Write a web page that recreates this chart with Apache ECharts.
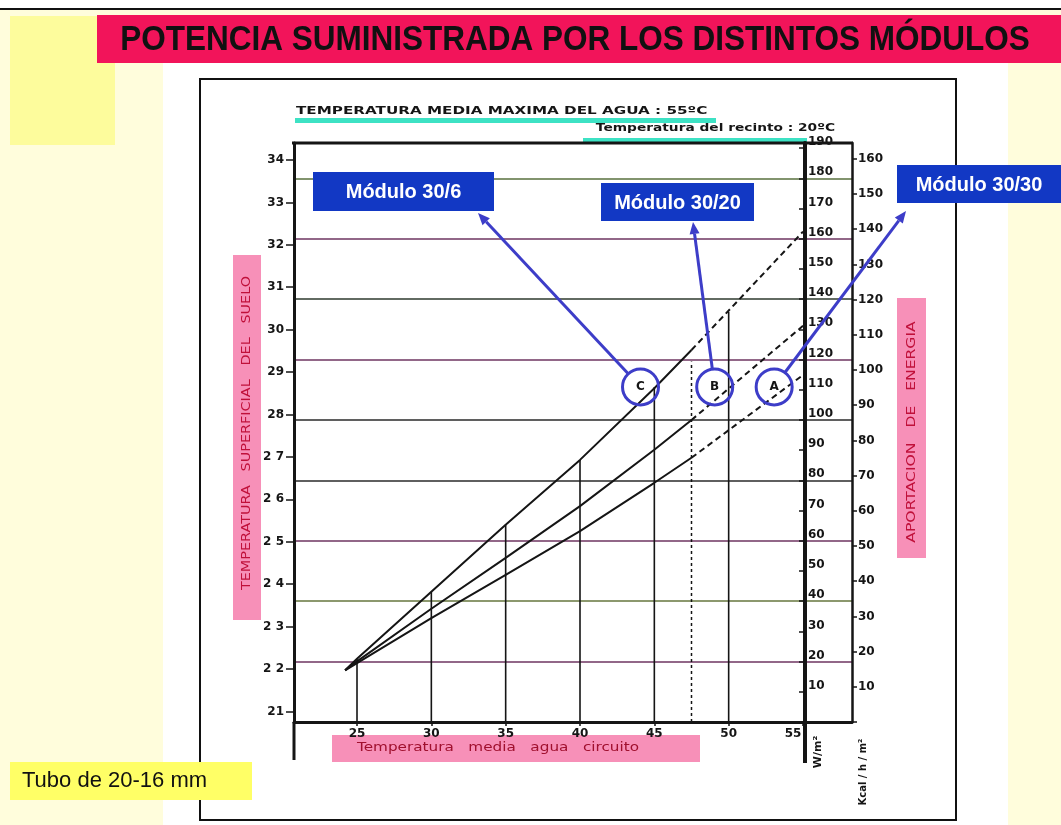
<html>
<head>
<meta charset="utf-8">
<script src="https://cdn.jsdelivr.net/npm/echarts@6/dist/echarts.min.js"></script>
<style>
    body { margin: 0; background: #fffddc; }
    #page { position: relative; width: 1061px; height: 825px; overflow: hidden; }
    .blk { position: absolute; }
    #chart { position: absolute; left: 0; top: 0; width: 1061px; height: 825px; }
</style>
</head>
<body>
<div id="page">
    <div class="blk" style="left:0;top:0;width:1061px;height:8px;background:#fff"></div>
    <div class="blk" style="left:0;top:8px;width:1061px;height:2px;background:#111"></div>
    <div class="blk" style="left:10px;top:16px;width:105px;height:129px;background:#fdfc9c"></div>
    <div class="blk" style="left:163px;top:63px;width:845px;height:762px;background:#fff"></div>
    <div class="blk" style="left:97px;top:15px;width:964px;height:48px;background:#f2145a"></div>
    <div class="blk" style="left:199px;top:78px;width:754px;height:739px;border:2px solid #111"></div>
    <div class="blk" style="left:10px;top:762px;width:242px;height:38px;background:#ffff66"></div>
    <!-- cajas rosas de los titulos de eje -->
    <div class="blk" style="left:233px;top:255px;width:28px;height:365px;background:#f790b8"></div>
    <div class="blk" style="left:897px;top:298px;width:29px;height:260px;background:#f790b8"></div>
    <div class="blk" style="left:332px;top:735px;width:368px;height:27px;background:#f790b8"></div>
    <!-- subrayados -->
    <div class="blk" style="left:295px;top:118px;width:421px;height:5px;background:#3de2c4"></div>
    <div class="blk" style="left:583px;top:138px;width:224px;height:5px;background:#3de2c4"></div>
    <div id="chart"></div>
</div>
<script>
    // temperatura media agua circuito (ºC) -> temperatura superficial del suelo (ºC)
    var waterTemp = [24.2, 25, 30, 35, 40, 45, 47.5];
    var floorC = [21.97, 22.24, 23.82, 25.40, 26.93, 28.62, 29.52];   // Módulo 30/6
    var floorB = [21.97, 22.18, 23.42, 24.62, 25.84, 27.17, 27.87];   // Módulo 30/20
    var floorA = [21.97, 22.14, 23.20, 24.22, 25.25, 26.39, 26.98];   // Módulo 30/30
    // tramo discontinuo hasta 55ºC
    var extTemp = [47.5, 55];
    var extC = [29.52, 32.31];
    var extB = [27.87, 30.09];
    var extA = [26.98, 28.93];
    // verticales
    var dropTemp = [25, 30, 35, 40, 45, 50];
    var dropTop = [22.24, 23.82, 25.40, 26.93, 28.65, 30.42];
    var dotTemp = 47.5;
    var dotTop = 29.25;
    // ticks
    var xTicks = [25, 30, 35, 40, 45, 50, 55];
    var floorTicks = [21, 22, 23, 24, 25, 26, 27, 28, 29, 30, 31, 32, 33, 34];
    var floorLabels = ['21', '2 2', '2 3', '2 4', '2 5', '2 6', '2 7', '28', '29', '30', '31', '32', '33', '34'];
    // circulos A/B/C
    var circleTag = ['C', 'B', 'A'];
    var circleTemp = [44.07, 49.06, 53.06];
    var circleFloor = [28.65, 28.65, 28.65];
    var moduleNames = ['Módulo 30/6', 'Módulo 30/20', 'Módulo 30/30'];

    var xMin = 20.762, xMax = 58.296;
    var yMin = 20.751, yMax = 34.40;
    var wMax = 191.7, kMax = 164.5;

    var ink = '#151515';
    var font = 'DejaVu Sans';

    function pairs(xs, ys) {
        return xs.map(function (x, i) { return [x, ys[i]]; });
    }

    function lineSeries(data, width, type) {
        return {
            type: 'line',
            data: data,
            showSymbol: false,
            silent: true,
            animation: false,
            lineStyle: { color: ink, width: width, type: type || 'solid' },
            z: 3
        };
    }

    var series = [
        lineSeries(pairs(waterTemp, floorC), 2),
        lineSeries(pairs(waterTemp, floorB), 2),
        lineSeries(pairs(waterTemp, floorA), 2),
        lineSeries(pairs(extTemp, extC), 2, [6, 4]),
        lineSeries(pairs(extTemp, extB), 2, [6, 4]),
        lineSeries(pairs(extTemp, extA), 2, [6, 4]),
        lineSeries([[dotTemp, yMin], [dotTemp, dotTop]], 1.5, [3, 3])
    ];
    dropTemp.forEach(function (t, i) {
        series.push(lineSeries([[t, yMin], [t, dropTop[i]]], 1.6));
    });

    var gridColors = [ink, '#6e3560', '#66763e', '#6e3560', '#2a2a2a', '#2a2a2a',
        '#6e3560', '#2e3a2e', '#6e3560', '#58703e'];

    var chart = echarts.init(document.getElementById('chart'));
    var option = {
        backgroundColor: 'transparent',
        animation: false,
        grid: { left: 294, top: 143, width: 558, height: 579, containLabel: false, outerBoundsMode: 'none' },
        xAxis: {
            type: 'value',
            min: xMin,
            max: xMax,
            axisLine: { lineStyle: { color: ink, width: 3 } },
            axisTick: { customValues: xTicks, length: 4, lineStyle: { color: ink, width: 1.5 } },
            axisLabel: {
                customValues: xTicks, color: ink, fontFamily: font, fontWeight: 'bold',
                fontSize: 12, margin: 6,
                formatter: function (v) { return v === 55 ? '{r|55}' : v; },
                rich: { r: { fontFamily: font, fontWeight: 'bold', fontSize: 12, color: ink, padding: [0, 20, 0, 0] } }
            },
            splitLine: { show: false }
        },
        yAxis: [
            {
                type: 'value', position: 'left', min: yMin, max: yMax,
                axisLine: { show: true, lineStyle: { color: ink, width: 3 } },
                axisTick: { show: true, customValues: floorTicks, length: 8, lineStyle: { color: ink, width: 1.5 } },
                axisLabel: {
                    customValues: floorTicks, color: ink, fontFamily: font, fontWeight: 'bold',
                    fontSize: 12, margin: 10,
                    formatter: function (v) { return floorLabels[floorTicks.indexOf(v)] || v; }
                },
                splitLine: { show: false }
            },
            {
                // rejilla horizontal cada 20 W/m2
                type: 'value', position: 'right', min: 0, max: wMax, interval: 20,
                axisLine: { show: false }, axisTick: { show: false }, axisLabel: { show: false },
                splitLine: { show: true, lineStyle: { color: gridColors, width: 1.5 } }
            },
            {
                // W/m2
                type: 'value', position: 'right', offset: -47, min: 0, max: wMax, interval: 10,
                axisLine: { show: true, lineStyle: { color: ink, width: 4 } },
                axisTick: { show: true, inside: true, length: 6, lineStyle: { color: ink, width: 1.5 } },
                axisLabel: {
                    color: ink, fontFamily: font, fontWeight: 'bold', fontSize: 12, margin: 3,
                    verticalAlign: 'bottom',
                    formatter: function (v) { return v === 0 ? '' : v; }
                },
                splitLine: { show: false }
            },
            {
                // Kcal/h/m2
                type: 'value', position: 'right', offset: 0, min: 0, max: kMax, interval: 10,
                axisLine: { show: true, lineStyle: { color: ink, width: 2.5 } },
                axisTick: { show: true, length: 5, lineStyle: { color: ink, width: 1.5 } },
                axisLabel: {
                    color: ink, fontFamily: font, fontWeight: 'bold', fontSize: 12, margin: 6,
                    showMaxLabel: false,
                    formatter: function (v) { return v === 0 ? '' : v; }
                },
                splitLine: { show: false }
            }
        ],
        series: series
    };
    chart.setOption(option);

    // anotaciones
    var blue = '#1238c4';
    var violet = '#3d3dc8';
    var boxes = [[313, 172, 181, 39], [601, 183, 153, 38], [897, 165, 164, 38]];
    var targets = [[478, 213], [693, 222], [906, 211]];
    var r = 18;

    function txt(text, x, y, opts) {
        opts = opts || {};
        return {
            type: 'text', x: x, y: y, rotation: opts.rot || 0, z: 100,
            scaleX: opts.sx || 1,
            style: {
                text: text, fill: opts.color || ink,
                font: opts.font || ('bold 12px "' + font + '"'),
                align: opts.align || 'center', verticalAlign: 'middle',
                textAlign: opts.align || 'center', textVerticalAlign: 'middle'
            }
        };
    }

    var els = [];
    els.push(txt('POTENCIA SUMINISTRADA POR LOS DISTINTOS MÓDULOS', 575, 40,
        { font: 'bold 35px "Liberation Sans"', color: '#111', sx: 0.9 }));
    els.push(txt('Tubo de 20-16 mm', 22, 781,
        { font: '22px "Liberation Sans"', color: '#111', align: 'left' }));
    els.push(txt('TEMPERATURA MEDIA MAXIMA DEL AGUA : 55ºC', 296, 111,
        { font: 'bold 11px "' + font + '"', align: 'left', sx: 1.38 }));
    els.push(txt('Temperatura del recinto : 20ºC', 835, 128,
        { font: 'bold 11px "' + font + '"', align: 'right', sx: 1.25 }));
    els.push(txt('TEMPERATURA   SUPERFICIAL   DEL   SUELO', 247, 433,
        { rot: Math.PI / 2, color: '#c0103a', font: '12px "' + font + '"', sx: 1.2 }));
    els.push(txt('APORTACION   DE   ENERGIA', 912, 432,
        { rot: Math.PI / 2, color: '#c0103a', font: '12px "' + font + '"', sx: 1.3 }));
    els.push(txt('Temperatura   media   agua   circuito', 357, 748,
        { color: '#a0102e', font: '12px "' + font + '"', align: 'left', sx: 1.27 }));
    els.push(txt('W/m²', 818, 752, { rot: Math.PI / 2, font: 'bold 11px "' + font + '"' }));
    els.push(txt('Kcal / h / m²', 863, 772, { rot: Math.PI / 2, font: 'bold 10px "' + font + '"' }));

    // lineas que completan el marco del abaco
    function seg(x1, y1, x2, y2, w) {
        return { type: 'line', z: 50, shape: { x1: x1, y1: y1, x2: x2, y2: y2 }, style: { stroke: ink, lineWidth: w } };
    }
    els.push(seg(292, 143, 853, 143, 3));
    els.push(seg(294, 722, 294, 760, 3));
    els.push(seg(805, 722, 805, 763, 4));

    boxes.forEach(function (b, i) {
        els.push({ type: 'rect', z: 90, shape: { x: b[0], y: b[1], width: b[2], height: b[3] }, style: { fill: blue } });
        els.push(txt(moduleNames[i], b[0] + b[2] / 2, b[1] + b[3] / 2 + 1,
            { color: '#fff', font: 'bold 20px "Liberation Sans"' }));
    });

    circleTag.forEach(function (tag, i) {
        var c = chart.convertToPixel({ xAxisIndex: 0, yAxisIndex: 0 }, [circleTemp[i], circleFloor[i]]);
        els.push({ type: 'circle', z: 95, shape: { cx: c[0], cy: c[1], r: r }, style: { fill: 'none', stroke: violet, lineWidth: 3 } });
        els.push(txt(tag, c[0], c[1], { font: 'bold 12px "' + font + '"' }));
        var t = targets[i];
        var dx = t[0] - c[0], dy = t[1] - c[1];
        var len = Math.sqrt(dx * dx + dy * dy);
        var ux = dx / len, uy = dy / len;
        var head = 12, hw = 5;
        var bx = t[0] - ux * head, by = t[1] - uy * head;
        els.push({
            type: 'line', z: 95,
            shape: { x1: c[0] + ux * r, y1: c[1] + uy * r, x2: bx, y2: by },
            style: { stroke: violet, lineWidth: 3 }
        });
        els.push({
            type: 'polygon', z: 95,
            shape: { points: [[t[0], t[1]], [bx - uy * hw, by + ux * hw], [bx + uy * hw, by - ux * hw]] },
            style: { fill: violet }
        });
    });

    chart.setOption({ graphic: { elements: els } });
    window.onresize = chart.resize;
</script>
</body>
</html>
